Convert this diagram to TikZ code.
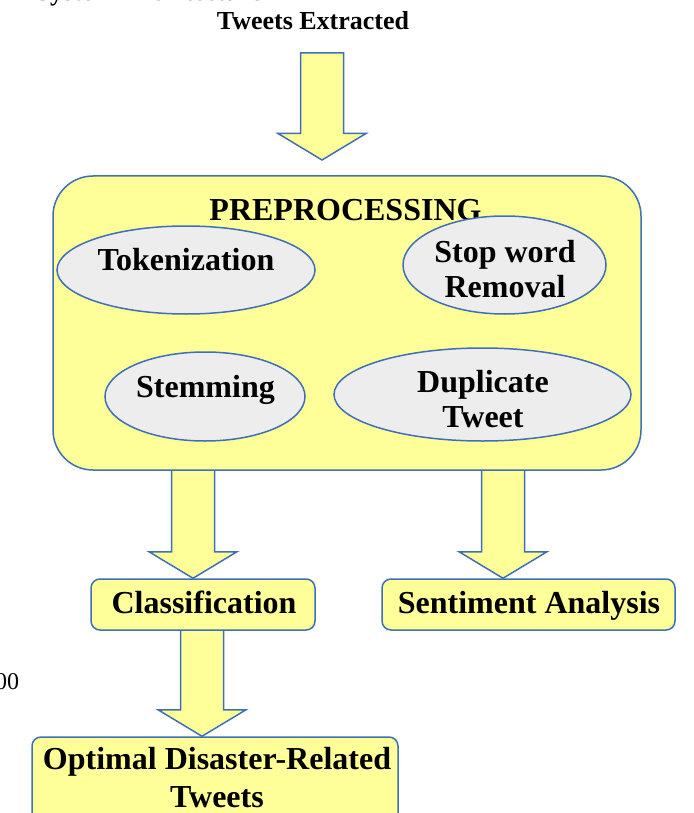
\documentclass[tikz,border=0pt]{standalone}
\usepackage{fontspec}
\setmainfont{Liberation Serif}
\usetikzlibrary{shapes.geometric,calc,backgrounds}
\definecolor{fillY}{HTML}{FFFF99}
\definecolor{edgeB}{HTML}{3F6FB6}
\definecolor{ellG}{HTML}{EDEDED}
\newcommand{\blockarr}[2]{%
  \draw[arrowsty] let \p1=(#1), \p2=(#2) in
    (\x1-21.5pt,\y1) -- (\x1+21.5pt,\y1) -- (\x1+21.5pt,\y2+26.5pt) --
    (\x1+44pt,\y2+26.5pt) -- (\x2,\y2) -- (\x1-44pt,\y2+26.5pt) --
    (\x1-21.5pt,\y2+26.5pt) -- cycle;}
\begin{document}
\begin{tikzpicture}[x=1pt,y=-1pt,
  lbl/.style={font=\fontsize{32}{36}\selectfont\bfseries, inner sep=0pt, anchor=base},
  lblsmall/.style={font=\fontsize{26}{30}\selectfont\bfseries, inner sep=0pt, anchor=base},
  bigbox/.style={draw=edgeB, fill=fillY, line width=1.5pt, rounded corners=40pt, inner sep=0pt},
  boxsty/.style={draw=edgeB, fill=fillY, line width=1.5pt, rounded corners=9pt, inner sep=0pt},
  ellsty/.style={ellipse, draw=edgeB, fill=ellG, line width=1.5pt, inner sep=0pt},
  arrowsty/.style={draw=edgeB, fill=fillY, line width=1.5pt, line join=miter}]
\useasboundingbox (0,0) rectangle (693,813);

% page fragments
\node[lblsmall] (sysarch) at (149,1) {System Architecture};
\node[font=\fontsize{24}{28}\selectfont, inner sep=0pt, anchor=base west] (pgnum) at (-5,689) {00};

\node[lblsmall] (te) at (313,30) {Tweets Extracted};

% main container
\node[bigbox, minimum width=588pt, minimum height=294pt] (prep) at (347,323) {};
\node[lbl] (prept) at (345.5,220) {PREPROCESSING};

% ellipses
\node[ellsty, minimum width=258pt, minimum height=88pt] (tok) at (186,270) {};
\node[ellsty, minimum width=203pt, minimum height=98pt] (stop) at (504.5,265) {};
\node[ellsty, minimum width=200pt, minimum height=89pt] (stem) at (205,396.5) {};
\node[ellsty, minimum width=297pt, minimum height=93pt] (dup) at (482.5,394.5) {};

\node[lbl] (tokt) at (186,270) {Tokenization};
\node[lbl] (stopt1) at (505,262) {Stop word};
\node[lbl] (stopt2) at (505,297) {Removal};
\node[lbl] (stemt) at (205.5,397) {Stemming};
\node[lbl] (dupt1) at (483,392) {Duplicate};
\node[lbl] (dupt2) at (483,427) {Tweet};

% output boxes
\node[boxsty, minimum width=224pt, minimum height=51pt] (cls) at (203,604.5) {};
\node[lbl] (clst) at (204,613) {Classification};
\node[boxsty, minimum width=293pt, minimum height=51pt] (sent) at (528.5,604.5) {};
\node[lbl] (sentt) at (529,613) {Sentiment Analysis};
\node[boxsty, minimum width=366pt, minimum height=86pt] (opt) at (215,780) {};
\node[lbl] (optt1) at (217,769) {Optimal Disaster-Related};
\node[lbl] (optt2) at (217,807) {Tweets};

% arrow anchors
\coordinate (a0s) at (322,53);
\coordinate (a0e) at (322,160);
\coordinate (a1s) at (193,470);
\coordinate (a2s) at (503,470);
\coordinate (a3s) at (202,630);

\begin{scope}[on background layer]
\blockarr{a0s}{a0e}
\blockarr{a1s}{a1s |- cls.north}
\blockarr{a2s}{a2s |- sent.north}
\blockarr{a3s}{a3s |- opt.north}
\end{scope}
\end{tikzpicture}
\end{document}
